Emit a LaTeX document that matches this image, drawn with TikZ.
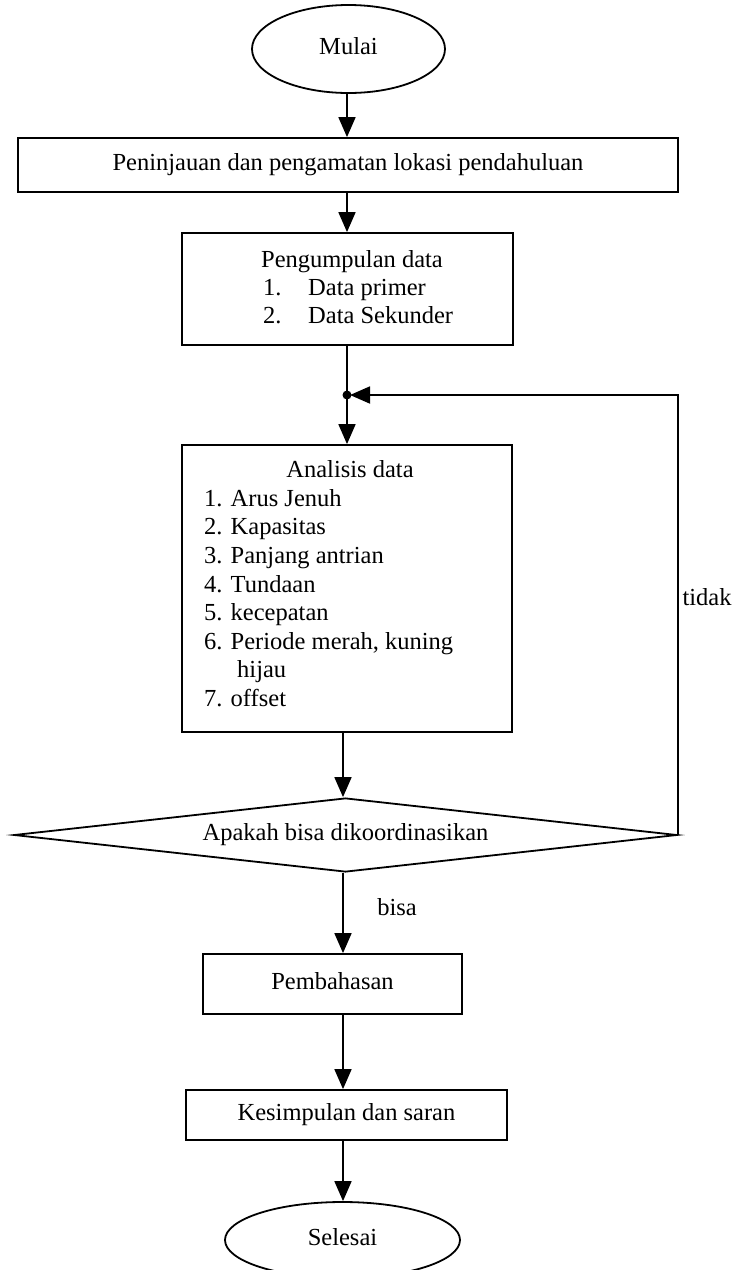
\documentclass[tikz,border=0pt]{standalone}
\usepackage{fontspec}
\setmainfont{Liberation Serif}
\usetikzlibrary{shapes.geometric,arrows.meta}
\begin{document}
\begin{tikzpicture}[x=1pt,y=-1pt,
  every node/.style={font=\fontsize{24.5}{28.6}\selectfont, text height=17pt, text depth=5.5pt, inner sep=0pt},
  outline/.style={draw, line width=1.8pt},
  procbox/.style={outline, rectangle},
  terminal/.style={outline, ellipse},
  decision/.style={outline, diamond, shape aspect=9},
  flow/.style={line width=1.8pt, -{Triangle[width=17pt,length=20pt]}},
  plain/.style={line width=1.8pt},
  listitem/.style={anchor=west}
]
\useasboundingbox (0,0) rectangle (738,1270);
\fill[white] (0,0) rectangle (738,1270);

% main axis of the flow and the loop junction
\coordinate (axis) at (347,0);
\coordinate (axislow) at (343,0);
\coordinate (junc) at (347,395);

% start
\node[terminal, minimum width=193pt, minimum height=88pt] (mulai) at (348.5,49) {Mulai};

% survey
\node[procbox, minimum width=660pt, minimum height=54pt] (tinjau) at (348,165)
  {Peninjauan dan pengamatan lokasi pendahuluan};

% data collection
\node[procbox, minimum width=331pt, minimum height=112pt] (kumpul) at (347.5,289) {};
\node (kumpulT) at (352,262) {Pengumpulan data};
\node[listitem] (k1n) at (263,290) {1.};
\node[listitem] (k1t) at (308,290) {Data primer};
\node[listitem] (k2n) at (263,318) {2.};
\node[listitem] (k2t) at (308,318) {Data Sekunder};

% analysis
\node[procbox, minimum width=330pt, minimum height=287pt] (analisa) at (347,588.5) {};
\node (analisaT) at (350,472) {Analisis data};
\node[listitem] (a1) at (204,500.6) {1. Arus Jenuh};
\node[listitem] (a2) at (204,529.2) {2. Kapasitas};
\node[listitem] (a3) at (204,557.8) {3. Panjang antrian};
\node[listitem] (a4) at (204,586.4) {4. Tundaan};
\node[listitem] (a5) at (204,615) {5. kecepatan};
\node[listitem] (a6) at (204,643.6) {6. Periode merah, kuning};
\node[listitem] (a6b) at (237,672.2) {hijau};
\node[listitem] (a7) at (204,700.8) {7. offset};

% decision
\node[decision, minimum width=663pt, minimum height=74pt] (keputusan) at (345.5,835)
  {Apakah bisa dikoordinasikan};

% discussion, conclusion, end
\node[procbox, minimum width=259pt, minimum height=60pt] (bahas) at (332.5,984) {Pembahasan};
\node[procbox, minimum width=321pt, minimum height=50pt] (simpul) at (346.5,1115) {Kesimpulan dan saran};
\node[terminal, minimum width=235pt, minimum height=76pt] (selesai) at (342.5,1240) {Selesai};

% labels
\node (tidak) at (707,600) {tidak};
\node (bisa) at (397,910) {bisa};

% connectors
\draw[flow] (mulai.south -| axis) -- (tinjau.north -| axis);
\draw[flow] (tinjau.south -| axis) -- (kumpul.north -| axis);
\draw[plain] (kumpul.south -| axis) -- (junc);
\fill (junc) circle (4.5pt);
\draw[flow] (junc) -- (analisa.north -| axis);
\draw[flow] (analisa.south -| axislow) -- (keputusan.north -| axislow);
\draw[flow] (keputusan.east) -- (keputusan.east |- junc) -- ([xshift=3pt]junc);
\draw[flow] (keputusan.south -| axislow) -- (bahas.north -| axislow);
\draw[flow] (bahas.south -| axislow) -- (simpul.north -| axislow);
\draw[flow] (simpul.south -| axislow) -- (selesai.north -| axislow);
\end{tikzpicture}
\end{document}
